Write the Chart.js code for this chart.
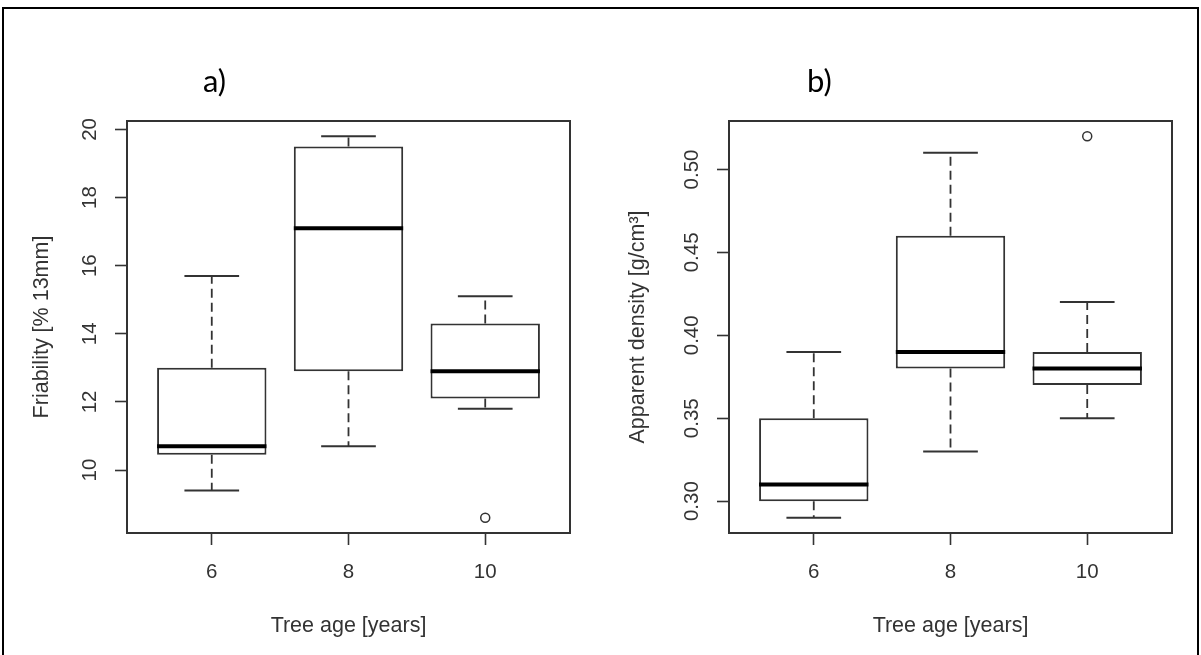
<!DOCTYPE html>
<html>
<head>
<meta charset="utf-8">
<script src="https://cdn.jsdelivr.net/npm/chart.js@4.4.1/dist/chart.umd.min.js"></script>
<style>
html,body{margin:0;padding:0;background:#fff;}
body{width:1201px;height:655px;position:relative;overflow:hidden;}
canvas{position:absolute;top:0;}
#ca{left:0;}
#cb{left:600px;}
#frame{position:absolute;left:2px;top:7px;width:1197px;height:720px;border:2px solid #000;box-sizing:border-box;pointer-events:none;}
</style>
</head>
<body>
<canvas id="ca" width="600" height="655"></canvas>
<canvas id="cb" width="601" height="655"></canvas>
<div id="frame"></div>
<script>
// ---------- data ----------
const AGES = ['6', '8', '10'];

// a) Friability [% 13mm]
const FRI_MIN = [9.4, 10.7, 11.8];
const FRI_Q1  = [10.45, 12.9, 12.1];
const FRI_MED = [10.7, 17.1, 12.9];
const FRI_Q3  = [13.0, 19.5, 14.3];
const FRI_MAX = [15.7, 19.8, 15.1];
const FRI_OUT = [[], [], [8.6]];
const FRI_TICKS = [10, 12, 14, 16, 18, 20];
const FRI_TICK_LABELS = ['10', '12', '14', '16', '18', '20'];

// b) Apparent density [g/cm3]
const DEN_MIN = [0.29, 0.33, 0.35];
const DEN_Q1  = [0.30, 0.38, 0.37];
const DEN_MED = [0.31, 0.39, 0.38];
const DEN_Q3  = [0.35, 0.46, 0.39];
const DEN_MAX = [0.39, 0.51, 0.42];
const DEN_OUT = [[], [], [0.52]];
const DEN_TICKS = [0.30, 0.35, 0.40, 0.45, 0.50];
const DEN_TICK_LABELS = ['0.30', '0.35', '0.40', '0.45', '0.50'];

// ---------- style ----------
const BOXWEX = 0.8;      // R default box width (in x units)
const STAPLE = 0.5;      // R staplewex
const LINE = '#333';
const TEXT = '#333';
const FONT = "'Liberation Sans', Arial, sans-serif";
const LABEL_FONT = "Lato, 'Open Sans', sans-serif";
const TICK_SIZE = 20.5;
const TITLE_SIZE = 21.5;

function rRange(vals) {
  const lo = Math.min(...vals), hi = Math.max(...vals), d = (hi - lo) * 0.04;
  return [lo - d, hi + d];
}

const panelPlugin = {
  id: 'rpanel',
  afterDraw(chart, args, opts) {
    const {ctx, chartArea: a} = chart;
    ctx.save();
    ctx.strokeStyle = LINE;
    ctx.lineWidth = 2;
    ctx.strokeRect(a.left, a.top, a.right - a.left, a.bottom - a.top);
    ctx.font = '31px ' + LABEL_FONT;
    ctx.fillStyle = '#000';
    ctx.textAlign = 'left';
    ctx.textBaseline = 'alphabetic';
    ctx.fillText(opts.text, opts.x, opts.y);
    ctx.restore();
  }
};

function halfPx(chart, frac) {
  const s = chart.scales.x;
  return Math.abs(s.getPixelForValue(1 + frac) - s.getPixelForValue(1));
}

function makeChart(id, cfg) {
  const pos = AGES.map((_, i) => i + 1);
  const [ymin, ymax] = rRange([...cfg.min, ...cfg.max, ...cfg.out.flat()]);
  const n = AGES.length;
  const xr = [0.5 - 0.04 * n, n + 0.5 + 0.04 * n];

  const datasets = [];
  // medians
  datasets.push({
    type: 'scatter',
    data: pos.map((x, i) => ({x, y: cfg.med[i]})),
    pointStyle: 'line',
    pointRadius: c => halfPx(c.chart, BOXWEX / 2),
    pointBorderColor: '#000',
    pointBorderWidth: 4,
    order: 0
  });
  // staples
  const caps = [];
  pos.forEach((x, i) => { caps.push({x, y: cfg.max[i]}, {x, y: cfg.min[i]}); });
  datasets.push({
    type: 'scatter',
    data: caps,
    pointStyle: 'line',
    pointRadius: c => halfPx(c.chart, BOXWEX * STAPLE / 2),
    pointBorderColor: LINE,
    pointBorderWidth: 2,
    order: 1
  });
  // outliers
  const outs = [];
  pos.forEach((x, i) => cfg.out[i].forEach(v => outs.push({x, y: v})));
  datasets.push({
    type: 'scatter',
    data: outs,
    pointStyle: 'circle',
    pointRadius: 4.5,
    pointBorderColor: LINE,
    pointBackgroundColor: 'rgba(0,0,0,0)',
    pointBorderWidth: 1.5,
    order: 1
  });
  // whiskers
  pos.forEach((x, i) => {
    [[cfg.q3[i], cfg.max[i]], [cfg.q1[i], cfg.min[i]]].forEach(([a, b]) => {
      datasets.push({
        type: 'line',
        data: [{x, y: a}, {x, y: b}],
        borderColor: LINE,
        borderWidth: 1.8,
        borderDash: [9, 5],
        pointRadius: 0,
        fill: false,
        order: 2
      });
    });
  });
  // boxes
  datasets.push({
    type: 'bar',
    data: pos.map((x, i) => ({x, y: [cfg.q1[i], cfg.q3[i]]})),
    backgroundColor: '#fff',
    borderColor: LINE,
    borderWidth: 2,
    borderSkipped: false,
    categoryPercentage: BOXWEX,
    barPercentage: 1,
    order: 5
  });

  return new Chart(document.getElementById(id), {
    type: 'bar',
    data: {datasets},
    plugins: [panelPlugin],
    options: {
      responsive: false,
      animation: false,
      events: [],
      layout: {padding: {top: 121, right: cfg.padRight, left: 0, bottom: 0}},
      plugins: {
        legend: {display: false},
        tooltip: {enabled: false},
        rpanel: {text: cfg.label, x: cfg.labelX, y: 92}
      },
      scales: {
        x: {
          type: 'linear',
          min: xr[0], max: xr[1],
          offset: false,
          afterBuildTicks: s => { s.ticks = pos.map(v => ({value: v})); },
          afterFit: s => { s.height = 122; },
          ticks: {
            color: TEXT, font: {family: FONT, size: TICK_SIZE}, padding: 15,
            maxRotation: 0, autoSkip: false,
            callback: (v, i) => AGES[i]
          },
          grid: {drawOnChartArea: false, offset: false, tickLength: 12, tickWidth: 1.6, tickColor: LINE, color: LINE},
          border: {display: false},
          title: {display: true, text: 'Tree age [years]', color: TEXT, font: {family: FONT, size: TITLE_SIZE}, padding: {top: 0, bottom: 16}}
        },
        y: {
          type: 'linear',
          min: ymin, max: ymax,
          beginAtZero: false,
          afterBuildTicks: s => { s.ticks = cfg.ticks.map(v => ({value: v})); },
          afterFit: s => { s.width = cfg.yWidth; },
          ticks: {
            color: TEXT, font: {family: FONT, size: TICK_SIZE},
            minRotation: 90, maxRotation: 90, crossAlign: 'center',
            padding: cfg.yTickPad, autoSkip: false,
            callback: (v, i) => cfg.tickLabels[i]
          },
          grid: {drawOnChartArea: false, tickLength: 12, tickWidth: 1.6, tickColor: LINE, color: LINE},
          border: {display: false},
          title: {display: true, text: cfg.ytitle, color: TEXT, font: {family: FONT, size: TITLE_SIZE}, padding: {top: cfg.yTitlePad, bottom: 0}}
        }
      }
    }
  });
}

makeChart('ca', {
  min: FRI_MIN, q1: FRI_Q1, med: FRI_MED, q3: FRI_Q3, max: FRI_MAX, out: FRI_OUT,
  ticks: FRI_TICKS, tickLabels: FRI_TICK_LABELS,
  ytitle: 'Friability [% 13mm]', label: 'a)', labelX: 203,
  padRight: 30, yWidth: 127, yTickPad: 13, yTitlePad: 29
});
makeChart('cb', {
  min: DEN_MIN, q1: DEN_Q1, med: DEN_MED, q3: DEN_Q3, max: DEN_MAX, out: DEN_OUT,
  ticks: DEN_TICKS, tickLabels: DEN_TICK_LABELS,
  ytitle: 'Apparent density [g/cm³]', label: 'b)', labelX: 207,
  padRight: 29, yWidth: 129, yTickPad: 5, yTitlePad: 25
});
</script>
</body>
</html>
